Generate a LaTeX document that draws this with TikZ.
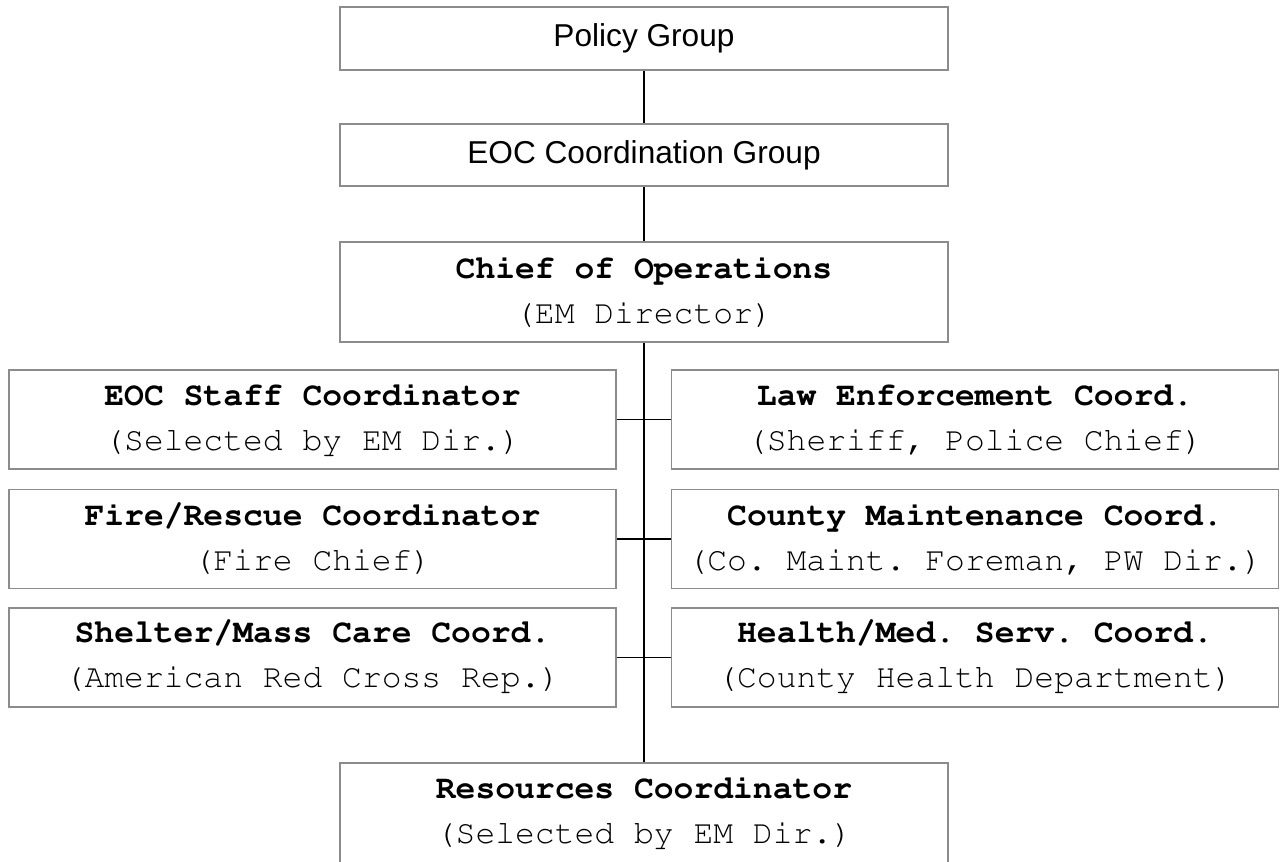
\documentclass[tikz,border=0pt]{standalone}
\usepackage[T1]{fontenc}
\usepackage{fontspec}
\setsansfont{Liberation Sans}
\usetikzlibrary{positioning}

\newcommand{\courierfont}{\fontencoding{T1}\fontfamily{pcr}\selectfont\frenchspacing}

\tikzset{
  groupbox/.style={draw=black!45, line width=1.1pt, rectangle, minimum width=12.16cm, inner sep=0pt,
    font=\sffamily\fontsize{18}{22}\selectfont},
  coordbox/.style={draw=black!45, line width=1.1pt, rectangle, minimum width=12.14cm, minimum height=1.98cm,
    inner sep=0pt, align=center, font=\courierfont\fontsize{18.8}{25.6}\selectfont},
  link/.style={draw=black, line width=1.1pt}
}

\begin{document}
\begin{tikzpicture}
            \useasboundingbox (0,0) rectangle (25.62,-17.22);
            \clip (0,0) rectangle (25.62,-17.22);

            % Groups
            \node[groupbox, minimum height=1.26cm] (pol) at (12.88,-0.77) {Policy Group};
            \node[groupbox, minimum height=1.24cm] (eoc) at (12.88,-3.10) {EOC Coordination Group};
            \node[coordbox, minimum width=12.16cm, minimum height=2cm] (chief) at (12.88,-5.84) {\textbf{Chief of Operations}\\(EM Director)};

            % Left side
            \node[coordbox] (l1) at (6.25,-8.39) {\textbf{EOC Staff Coordinator}\\(Selected by EM Dir.)};
            \node[coordbox] (l2) at (6.25,-10.78) {\textbf{Fire/Rescue Coordinator}\\(Fire Chief)};
            \node[coordbox] (l3) at (6.25,-13.15) {\textbf{Shelter/Mass Care Coord.}\\(American Red Cross Rep.)};

            % Right side
            \node[coordbox] (r1) at (19.50,-8.39) {\textbf{Law Enforcement Coord.}\\(Sheriff, Police Chief)};
            \node[coordbox] (r2) at (19.50,-10.78) {\textbf{County Maintenance Coord.}\\(Co. Maint. Foreman, PW Dir.)};
            \node[coordbox] (r3) at (19.50,-13.15) {\textbf{Health/Med. Serv. Coord.}\\(County Health Department)};

            % Bottom
            \node[coordbox, minimum width=12.16cm, minimum height=2cm] (res) at (12.88,-16.26) {\textbf{Resources Coordinator}\\(Selected by EM Dir.)};

            % Lines
            \draw[link] (pol) -- (eoc);
            \draw[link] (eoc) -- (chief);
            \draw[link] (chief) -- (res);
            \draw[link] (l1) -- (r1);
            \draw[link] (l2) -- (r2);
            \draw[link] (l3) -- (r3);

        \end{tikzpicture}
\end{document}
